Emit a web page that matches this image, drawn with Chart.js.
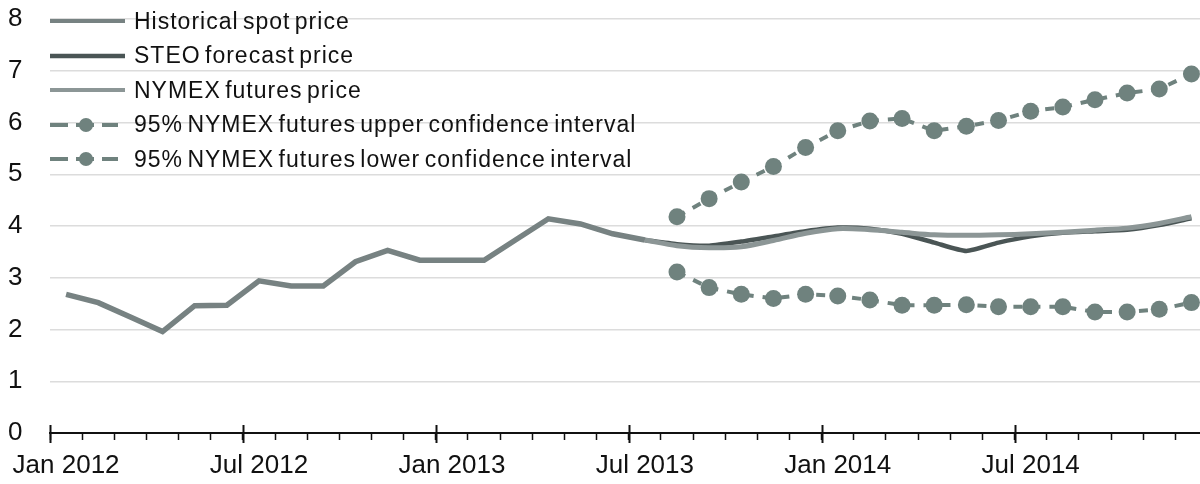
<!DOCTYPE html>
<html>
<head>
<meta charset="utf-8">
<title>Natural gas price forecast</title>
<script src="https://cdn.jsdelivr.net/npm/chart.js@4"></script>
<style>
  html, body { margin: 0; padding: 0; background: #fff; overflow: hidden; }
  #wrap { position: relative; width: 1216px; height: 484px; }
  #legend {
    position: absolute; left: 50px; top: 4px;
    font-family: "Liberation Sans", Arial, sans-serif; font-size: 23px;
    letter-spacing: 1px; word-spacing: -3px; color: #111;
  }
  .row { display: flex; align-items: center; height: 34.5px; }
  .row svg { margin-right: 8px; flex: none; }
</style>
</head>
<body>
<div id="wrap">
  <canvas id="chart"></canvas>
  <div id="legend"></div>
</div>
<script>
// months Jan 2012 .. Dec 2014
var months = [];
var monthNames = ["Jan","Feb","Mar","Apr","May","Jun","Jul","Aug","Sep","Oct","Nov","Dec"];
[2012, 2013, 2014].forEach(function(y) {
  monthNames.forEach(function(m) { months.push(m + " " + y); });
});

var yTicks = [0, 1, 2, 3, 4, 5, 6, 7, 8];

var historical = [2.68, 2.52, 2.24, 1.96, 2.46, 2.47, 2.94, 2.84, 2.84, 3.31, 3.53, 3.34,
                  3.34, 3.34, 3.74, 4.14, 4.04, 3.85, 3.73];

// forecast series start on the last historical month so the lines join
var steo = [null, null, null, null, null, null, null, null, null, null, null, null,
            null, null, null, null, null, null, 3.73,
            3.65, 3.62, 3.70, 3.80, 3.90, 3.97, 3.95, 3.85, 3.68, 3.52, 3.68, 3.80,
            3.87, 3.90, 3.93, 4.02, 4.15];

var nymex = [null, null, null, null, null, null, null, null, null, null, null, null,
             null, null, null, null, null, null, 3.73,
             3.62, 3.58, 3.60, 3.72, 3.86, 3.95, 3.93, 3.88, 3.83, 3.82, 3.83, 3.85,
             3.88, 3.92, 3.96, 4.05, 4.18];

var upper = [null, null, null, null, null, null, null, null, null, null, null, null,
             null, null, null, null, null, null, null,
             4.18, 4.53, 4.85, 5.15, 5.52, 5.84, 6.03, 6.08, 5.84, 5.93, 6.04, 6.22,
             6.30, 6.44, 6.57, 6.65, 6.94];

var lower = [null, null, null, null, null, null, null, null, null, null, null, null,
             null, null, null, null, null, null, null,
             3.11, 2.81, 2.68, 2.60, 2.68, 2.65, 2.57, 2.47, 2.47, 2.48, 2.44, 2.44,
             2.44, 2.34, 2.34, 2.39, 2.52];

var seriesNames = [
  "Historical spot price",
  "STEO forecast price",
  "NYMEX futures price",
  "95% NYMEX futures upper confidence interval",
  "95% NYMEX futures lower confidence interval"
];

var colHist = "#778282";
var colSteo = "#4a5555";
var colNymex = "#8c9696";
var colBand = "#6f827e";

// legend built as html, samples as small svg strokes
var legendHtml = "";
var solid = [colHist, colSteo, colNymex];
seriesNames.forEach(function(name, i) {
  var svg;
  if (i < 3) {
    svg = '<svg width="76" height="10"><line x1="0" y1="5" x2="75" y2="5" stroke="' + solid[i] +
          '" stroke-width="' + (i == 1 ? 4.5 : 4) + '"/></svg>';
  } else {
    svg = '<svg width="76" height="18"><line x1="0" y1="9" x2="18" y2="9" stroke="' + colBand + '" stroke-width="4"/>' +
          '<line x1="26" y1="9" x2="44" y2="9" stroke="' + colBand + '" stroke-width="4"/>' +
          '<circle cx="36" cy="9" r="7" fill="' + colBand + '"/>' +
          '<line x1="52" y1="9" x2="68" y2="9" stroke="' + colBand + '" stroke-width="4"/></svg>';
  }
  legendHtml += '<div class="row">' + svg + '<span>' + name + '</span></div>';
});
document.getElementById("legend").innerHTML = legendHtml;

// longer ticks at Jan / Jul crossing the axis line
var majorTicks = {
  id: "majorTicks",
  afterDraw: function(chart) {
    var xs = chart.scales.x;
    var ctx = chart.ctx;
    var step = xs.width / months.length;
    ctx.save();
    ctx.strokeStyle = "#111";
    ctx.lineWidth = 2;
    for (var i = 0; i <= months.length; i += 6) {
      var px = Math.round(xs.left + i * step) + 0.5;
      if (px > chart.width) continue;
      ctx.beginPath();
      ctx.moveTo(px, xs.top - 8);
      ctx.lineTo(px, xs.top + 10);
      ctx.stroke();
    }
    ctx.restore();
  }
};

var font = { family: "'Liberation Sans', Arial, sans-serif", size: 26 };

new Chart(document.getElementById("chart"), {
  type: "line",
  data: {
    labels: months,
    datasets: [
      { label: seriesNames[3], data: upper, borderColor: colBand, borderWidth: 4, borderDash: [9, 9],
        pointRadius: 8.5, pointBackgroundColor: colBand, pointBorderWidth: 0, tension: 0 },
      { label: seriesNames[4], data: lower, borderColor: colBand, borderWidth: 4, borderDash: [9, 9],
        pointRadius: 8.5, pointBackgroundColor: colBand, pointBorderWidth: 0, tension: 0 },
      { label: seriesNames[2], data: nymex, borderColor: colNymex, borderWidth: 5,
        pointRadius: 0, tension: 0.3 },
      { label: seriesNames[1], data: steo, borderColor: colSteo, borderWidth: 4.5,
        pointRadius: 0, tension: 0.2 },
      { label: seriesNames[0], data: historical, borderColor: colHist, borderWidth: 5.5,
        pointRadius: 0, tension: 0 }
    ]
  },
  options: {
    responsive: true,
    maintainAspectRatio: false,
    animation: false,
    spanGaps: false,
    layout: { padding: { top: 0, right: 7, left: 8, bottom: 0 } },
    plugins: { legend: { display: false }, tooltip: { enabled: false } },
    scales: {
      x: {
        type: "category",
        offset: true,
        grid: { offset: true, drawOnChartArea: false, drawTicks: true, tickLength: 7,
                tickColor: "#111", tickWidth: 1.5 },
        border: { display: true, color: "#111", width: 2 },
        ticks: {
          autoSkip: false, maxRotation: 0, minRotation: 0, padding: 10,
          color: "#111", font: font,
          callback: function(v, i) { return i % 6 === 0 ? months[i] : ""; }
        },
        afterFit: function(s) { s.height = 51; }
      },
      y: {
        min: 0, max: 8,
        afterBuildTicks: function(s) { s.ticks = yTicks.map(function(v) { return { value: v }; }); },
        grid: { color: "#dcdcdc", lineWidth: 1.5, drawTicks: false },
        border: { display: false },
        ticks: { padding: 3.5, crossAlign: "far", color: "#111", font: font },
        afterFit: function(s) { s.width = 42; }
      }
    }
  },
  plugins: [majorTicks]
});
</script>
</body>
</html>
